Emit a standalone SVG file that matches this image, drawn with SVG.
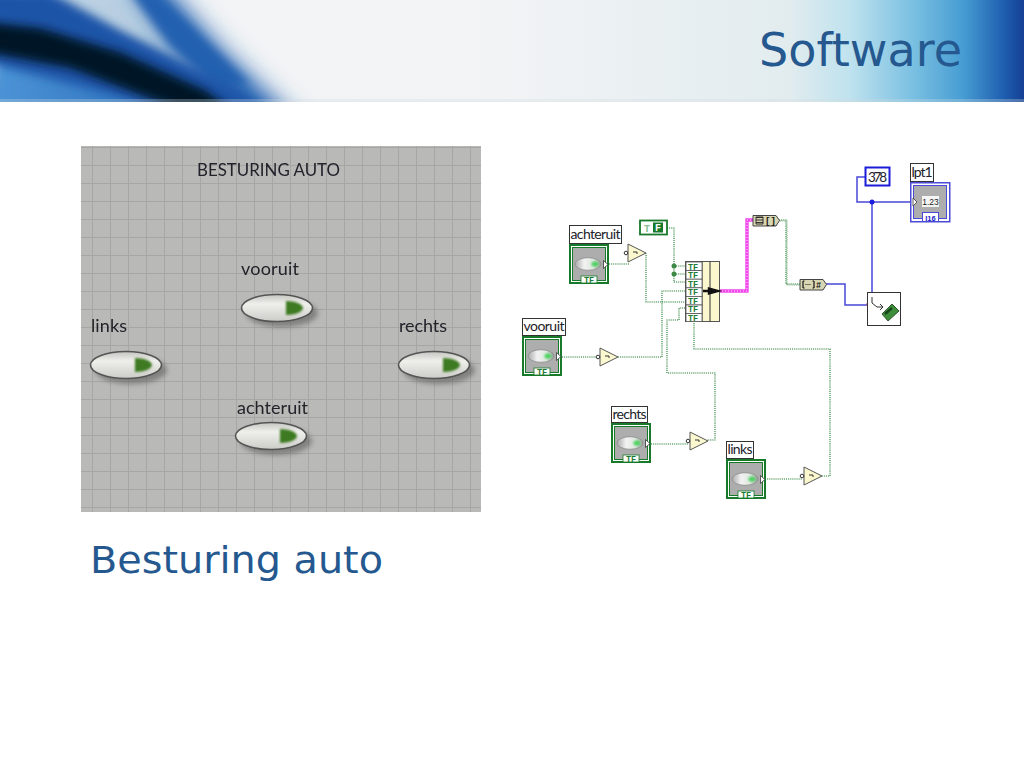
<svg xmlns="http://www.w3.org/2000/svg" width="1024" height="768" viewBox="0 0 1024 768">
<style>
.vi{font-family:"Lato","Open Sans",sans-serif;fill:#22222a}
.lab{fill:#fff;stroke:#333;stroke-width:1}
.w{fill:none;stroke:#1f7a2c;stroke-width:1.1;stroke-dasharray:1.1 1}
.w2{fill:none;stroke:#4848d8;stroke-width:1.5}
.g{fill:#fbf8cf;stroke:#555;stroke-width:1}
.bub{fill:#fff;stroke:#333;stroke-width:1}
.tf{font-family:"Liberation Mono",monospace;font-size:8.5px;font-weight:bold;fill:#1f7a35}
.title{font-family:"DejaVu Sans",sans-serif;fill:#24588f}
.gl{stroke:#a6a6a4;stroke-width:1}
</style>
<defs>
<linearGradient id="sky" x1="0" x2="1" y1="0" y2="0">
<stop offset="0" stop-color="#f3f4f6"/><stop offset=".5" stop-color="#f1f3f5"/><stop offset=".77" stop-color="#e2ecef"/><stop offset=".83" stop-color="#bfe2ee"/><stop offset=".89" stop-color="#7cc1e2"/><stop offset=".94" stop-color="#479dd3"/><stop offset=".98" stop-color="#1f5fb0"/><stop offset="1" stop-color="#143f94"/>
</linearGradient>
<linearGradient id="ll" x1="0" x2="1" y1="0" y2="0"><stop offset="0" stop-color="#4f97d8"/><stop offset="1" stop-color="#1b5cae"/></linearGradient>
<linearGradient id="btn" x1="0" x2="0" y1="0" y2="1"><stop offset="0" stop-color="#c4c5c1"/><stop offset=".35" stop-color="#efefeb"/><stop offset="1" stop-color="#cbcbc7"/></linearGradient>
<linearGradient id="led" x1="0" x2="1" y1="0" y2="0"><stop offset="0" stop-color="#a9a9a9"/><stop offset=".35" stop-color="#f2f2f2"/><stop offset=".7" stop-color="#dfe8df"/><stop offset="1" stop-color="#9c9c9c"/></linearGradient>
<filter id="b12" x="-40%" y="-80%" width="180%" height="260%"><feGaussianBlur stdDeviation="12"/></filter>
<filter id="b6" x="-40%" y="-80%" width="180%" height="260%"><feGaussianBlur stdDeviation="5"/></filter>
<filter id="b2" x="-30%" y="-60%" width="160%" height="220%"><feGaussianBlur stdDeviation="2.5"/></filter>
<filter id="b1" x="-30%" y="-50%" width="160%" height="200%"><feGaussianBlur stdDeviation=".8"/></filter>
<filter id="soft" x="-5%" y="-20%" width="110%" height="140%"><feGaussianBlur stdDeviation=".35"/></filter>
<clipPath id="bc"><rect width="1024" height="102"/></clipPath>
<g id="ctl">
<rect x="1" y="1" width="38" height="38" fill="#fff" stroke="#17792a" stroke-width="2"/>
<rect x="3.5" y="3.5" width="33" height="33" fill="#adadad" stroke="#17792a" stroke-width="1"/>
<ellipse cx="19" cy="20" rx="13" ry="6.3" fill="url(#led)" stroke="#8c8c8c" stroke-width=".8"/>
<ellipse cx="26" cy="20" rx="3.6" ry="2.6" fill="#4bd35f" filter="url(#b1)"/>
<path d="M34.5 16.5L39 20.5L34.5 24.5Z" fill="#fff" stroke="#333" stroke-width=".8"/>
<rect x="12" y="32" width="16" height="7" fill="#fff" stroke="#17792a" stroke-width=".8"/>
<text x="20" y="38.6" text-anchor="middle" class="tf">TF</text>
</g>
<g id="not">
<path d="M0 0L18 9L0 18Z" class="g"/>
<circle cx="-2" cy="9" r="1.8" class="bub"/>
<path d="M5 8H9V10" fill="none" stroke="#333" stroke-width="1"/>
</g>
<g id="btnp">
<ellipse cx="5" cy="5" rx="36" ry="14" fill="#555" opacity=".55" filter="url(#b2)"/>
<ellipse cx="0" cy="0" rx="35.5" ry="13.5" fill="url(#btn)" stroke="#555" stroke-width="1.6"/>
<path d="M9 -7Q18 -7 23 -4Q26 -2 26 0Q26 2 23 4Q18 7 9 7Z" fill="#3e7a24" filter="url(#b1)"/>
</g>
</defs>

<g id="banner" clip-path="url(#bc)">
<rect width="1024" height="102" fill="url(#sky)"/>
<path d="M-20 -20H125L200 60L290 125H-20Z" fill="#b9cfe1" filter="url(#b12)"/>
<path d="M0 55L260 120H-20Z" fill="url(#ll)" filter="url(#b6)"/>
<path d="M125 -25L155 -25L222 50L300 125L240 125L175 50Z" fill="#2360b0" filter="url(#b12)"/>
<path d="M125 -15L150 -15L215 50L250 85L215 85L170 45Z" fill="#2360b0" filter="url(#b6)"/>
<path d="M-15 -10L50 -8L120 30L230 85L270 112L180 112L-15 62Z" fill="#1a55a8" filter="url(#b6)"/>
<path d="M-15 22L40 28L120 52L205 90L232 110L180 110L70 68L-15 52Z" fill="#051228" filter="url(#b6)"/>
<rect y="99" width="1024" height="3" fill="#cfd9dd" opacity=".3"/>
</g>
<text id="title" class="title" x="759" y="66" font-size="46" textLength="203" lengthAdjust="spacingAndGlyphs">Software</text>

<g id="front-panel">
<rect x="81" y="146" width="400" height="366" fill="#b9b9b7"/>
<path class="gl" d="M92.5 146V512M110.5 146V512M128.5 146V512M146.5 146V512M164.5 146V512M182.5 146V512M200.5 146V512M218.5 146V512M236.5 146V512M254.5 146V512M272.5 146V512M290.5 146V512M308.5 146V512M326.5 146V512M344.5 146V512M362.5 146V512M380.5 146V512M398.5 146V512M416.5 146V512M434.5 146V512M452.5 146V512M470.5 146V512"/>
<path class="gl" d="M81 147.5H481M81 165.5H481M81 183.5H481M81 201.5H481M81 219.5H481M81 237.5H481M81 255.5H481M81 273.5H481M81 291.5H481M81 309.5H481M81 327.5H481M81 345.5H481M81 363.5H481M81 381.5H481M81 399.5H481M81 417.5H481M81 435.5H481M81 453.5H481M81 471.5H481M81 489.5H481M81 507.5H481"/>
<text class="vi" x="197" y="176" font-size="18" textLength="143" lengthAdjust="spacingAndGlyphs" filter="url(#soft)">BESTURING AUTO</text>
<g id="panel-vooruit"><text class="vi" x="241" y="275" font-size="18" textLength="58" filter="url(#soft)">vooruit</text><use href="#btnp" x="277" y="308"/></g>
<g id="panel-links"><text class="vi" x="91" y="332" font-size="18" textLength="36" filter="url(#soft)">links</text><use href="#btnp" x="126" y="365"/></g>
<g id="panel-rechts"><text class="vi" x="399" y="332" font-size="18" textLength="48" filter="url(#soft)">rechts</text><use href="#btnp" x="434" y="365"/></g>
<g id="panel-achteruit"><text class="vi" x="237" y="414" font-size="18" textLength="71" filter="url(#soft)">achteruit</text><use href="#btnp" x="271" y="436"/></g>
</g>

<g id="connectors">
<path class="w" d="M609 264H630"/>
<path class="w" d="M646 253V302H685"/>
<path class="w" d="M667 228H674V282H685M674 266H685M674 274H685"/>
<path class="w" d="M562 357H598"/>
<path class="w" d="M618 357H662V291H685"/>
<path class="w" d="M685 308H679V320H667V373H715V440H707"/>
<path class="w" d="M694 321V349H830V476H822"/>
<path class="w" d="M651 444H688"/>
<path class="w" d="M765 479H802"/>
<path fill="none" stroke="#f048ea" stroke-width="3.4" d="M719 291H747V220H753"/>
<path fill="none" stroke="#ffffff" stroke-width=".8" stroke-dasharray="1 2" d="M719 291H747V220H753"/>
<path class="w" d="M779 220H786V284H800"/>
<path class="w" d="M780 221H787V285H800" opacity=".6"/>
<path class="w2" d="M826 284H845V305H868"/>
<path class="w2" d="M865 177H857V202H913M872 202V292"/>
<circle cx="872" cy="202" r="2.5" fill="#1a1ae0"/>
<circle cx="674" cy="266" r="2.5" fill="#3c8a46"/>
<circle cx="674" cy="274" r="2.5" fill="#3c8a46"/>
<circle cx="868" cy="304" r="1.6" fill="#e8243c"/>
</g>

<g id="achteruit"><rect class="lab" x="569.5" y="225.5" width="52" height="18"/><text class="vi" x="570.5" y="239" font-size="14" textLength="50">achteruit</text><use href="#ctl" x="569" y="244"/></g>
<g id="vooruit"><rect class="lab" x="522.5" y="318.5" width="43" height="17"/><text class="vi" x="523.5" y="331" font-size="14" textLength="41">vooruit</text><use href="#ctl" x="522" y="336"/></g>
<g id="rechts"><rect class="lab" x="611.5" y="406.5" width="36" height="16"/><text class="vi" x="612.5" y="419" font-size="14" textLength="34">rechts</text><use href="#ctl" x="611" y="423"/></g>
<g id="links"><rect class="lab" x="726.5" y="441.5" width="27" height="17"/><text class="vi" x="727.5" y="454" font-size="14" textLength="25">links</text><use href="#ctl" x="726" y="459"/></g>

<g id="not-achteruit"><use href="#not" x="628" y="244"/></g>
<g id="not-vooruit"><use href="#not" x="600" y="348"/></g>
<g id="not-rechts"><use href="#not" x="690" y="432"/></g>
<g id="not-links"><use href="#not" x="804" y="467"/></g>

<g id="bool-constant">
<rect x="640" y="220.5" width="27" height="14" fill="#fff" stroke="#17792a" stroke-width="1.8"/>
<text x="644" y="231.5" font-family="Liberation Mono,monospace" font-size="10" font-weight="bold" fill="#86c090">T</text>
<rect x="653" y="222.5" width="10" height="10" fill="#17792a"/>
<text x="655" y="231" font-family="Liberation Mono,monospace" font-size="10" font-weight="bold" fill="#fff">F</text>
</g>

<g id="build-array">
<rect x="685.5" y="261.5" width="34" height="60" fill="#fbf8cf" stroke="#555"/>
<path d="M702 261.5V321.5M710 261.5V321.5" stroke="#333" fill="none"/>
<g fill="#fff" stroke="#555" stroke-width=".8">
<rect x="686" y="262" width="16" height="8.6"/><rect x="686" y="270.6" width="16" height="8.6"/><rect x="686" y="279.2" width="16" height="8.6"/><rect x="686" y="287.8" width="16" height="8.6"/><rect x="686" y="296.4" width="16" height="8.6"/><rect x="686" y="305" width="16" height="8.6"/><rect x="686" y="313.6" width="16" height="8"/>
</g>
<g class="tf"><text x="688" y="269.5">TF</text><text x="688" y="278">TF</text><text x="688" y="286.6">TF</text><text x="688" y="295.2">TF</text><text x="688" y="303.8">TF</text><text x="688" y="312.4">TF</text><text x="688" y="320.6">TF</text></g>
<path d="M703 291H709V288.5L718 291L709 293.5V291" fill="#111" stroke="#111" stroke-width="2.4"/>
</g>

<g id="array-to-cluster">
<path d="M753 215.5H776L779.5 220.5L776 226H753Z" fill="#d9d6b4" stroke="#444"/>
<path d="M756 217.5H763M756 220H763M756 222.5H763M756 217H763V224H756Z" fill="none" stroke="#222" stroke-width=".9"/>
<text x="765" y="224" font-family="Liberation Mono,monospace" font-size="9" font-weight="bold" fill="#111">[]</text>
</g>
<g id="cluster-to-number">
<path d="M800 279.5H823L826.5 284.5L823 290H800Z" fill="#d9d6b4" stroke="#444"/>
<path d="M803 281V288M803 281H804.5M803 288H804.5M814 281V288M814 281H812.5M814 288H812.5" fill="none" stroke="#111" stroke-width="1.2"/>
<path d="M805.5 284.5H811.5" stroke="#111" stroke-dasharray="1 1"/>
<text x="816" y="288" font-family="Liberation Mono,monospace" font-size="8.5" font-weight="bold" fill="#111">#</text>
</g>

<g id="port-out">
<rect x="867.5" y="292.5" width="33" height="33" fill="#fff" stroke="#333"/>
<path d="M872 297V303L877 307H882M880 304L883 307L880 310" fill="none" stroke="#333" stroke-width="1"/>
<path d="M884 314L889 320M887 311L892 317M890 308L895 314M893 305L898 311" stroke="#333" stroke-width=".8"/>
<path d="M882 314L892 304L899 311L888 321Z" fill="#3f8f3a" stroke="#173f18" stroke-width=".8"/>
<path d="M885 314L892 308" stroke="#17451c" stroke-width="2.4"/>
</g>

<g id="const-378">
<rect x="865.5" y="167.5" width="24" height="18" fill="#fff" stroke="#1c1cd8" stroke-width="2"/>
<text x="877.5" y="181.5" text-anchor="middle" class="vi" font-size="13.5" textLength="19">378</text>
</g>

<g id="lpt1">
<rect class="lab" x="910.5" y="163.5" width="23" height="18"/>
<text class="vi" x="911.5" y="177" font-size="14" textLength="21">lpt1</text>
<rect x="910.75" y="182.75" width="39" height="39" fill="#fff" stroke="#4b4bd8" stroke-width="1.5"/>
<rect x="913.5" y="185.5" width="33" height="33" fill="#adadad" stroke="#4b4bd8"/>
<rect x="922" y="196" width="17" height="11" fill="#f5f5f5"/>
<text x="930.5" y="205" text-anchor="middle" font-family="Liberation Sans,sans-serif" font-size="8.5" fill="#222">1.23</text>
<path d="M913 198L917 202L913 206Z" fill="#fff" stroke="#333" stroke-width=".8"/>
<rect x="922.5" y="212.5" width="16" height="9" fill="#fff" stroke="#4b4bd8"/>
<text x="930.5" y="220.5" text-anchor="middle" font-family="Liberation Sans,sans-serif" font-size="7.5" font-weight="bold" fill="#2020c8">I16</text>
</g>

<text id="subtitle" class="title" x="90" y="573" font-size="38" textLength="293" lengthAdjust="spacingAndGlyphs">Besturing auto</text>
</svg>
